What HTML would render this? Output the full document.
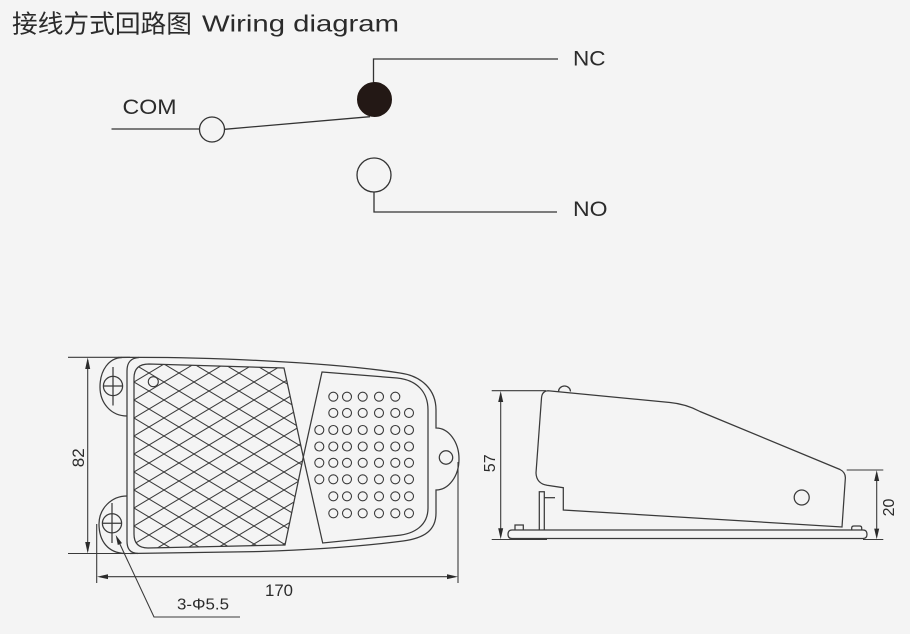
<!DOCTYPE html>
<html>
<head>
<meta charset="utf-8">
<style>
  html,body{margin:0;padding:0;background:#f4f4f4;}
  svg{display:block;}
  .t{font-family:"Liberation Sans","Noto Sans CJK SC",sans-serif;fill:#2b2b2b;}
</style>
</head>
<body>
<svg width="910" height="634" viewBox="0 0 910 634" xmlns="http://www.w3.org/2000/svg">
  <defs>
    <pattern id="hatch" patternUnits="userSpaceOnUse" x="134" y="364" width="30" height="18">
      <path d="M-5,-3 L35,21 M-5,21 L35,-3" stroke="#3a3a3a" stroke-width="1" fill="none"/>
    </pattern>
  </defs>
  <rect x="0" y="0" width="910" height="634" fill="#f4f4f4"/>

  <!-- Title -->
  <text class="t" x="12" y="32.5" font-size="25" textLength="180" lengthAdjust="spacingAndGlyphs" style="font-family:'Noto Sans CJK SC',sans-serif;">接线方式回路图</text>
  <text class="t" x="202" y="31.5" font-size="23" textLength="197" lengthAdjust="spacingAndGlyphs">Wiring diagram</text>

  <!-- Wiring diagram -->
  <g stroke="#333" stroke-width="1.3" fill="none">
    <line x1="111.5" y1="129" x2="199.5" y2="129"/>
    <line x1="224.5" y1="129.3" x2="370" y2="116.7"/>
    <polyline points="373.5,84 373.5,59 558,59"/>
    <polyline points="374,192 374,212 557,212"/>
  </g>
  <circle cx="212" cy="129.5" r="12.5" fill="#f4f4f4" stroke="#333" stroke-width="1.3"/>
  <circle cx="374.5" cy="99.5" r="17" fill="#231815" stroke="#231815" stroke-width="1"/>
  <circle cx="374" cy="175" r="17" fill="#f4f4f4" stroke="#333" stroke-width="1.3"/>
  <text class="t" x="122.5" y="114" font-size="21" textLength="54" lengthAdjust="spacingAndGlyphs">COM</text>
  <text class="t" x="573" y="65.7" font-size="21" textLength="32.5" lengthAdjust="spacingAndGlyphs">NC</text>
  <text class="t" x="573" y="216" font-size="21" textLength="34.5" lengthAdjust="spacingAndGlyphs">NO</text>

  <!-- Front view -->
  <g stroke="#3a3a3a" stroke-width="1.25" fill="none">
    <!-- outer outline -->
    <path d="M130,553.5 L260,551.5 C320,549.5 365,546 403,541 C425,538 436,530 436,513 L436,490 A23,31 0 0 0 436,428 L436,410 C436,390 422,376 400,373 C330,362 200,356.5 118,357.5"/>
    <!-- left body line -->
    <path d="M139,357.5 C131,358 127,362 127,371 L127,541 C127,549 130,553 138,553.5"/>
    <!-- ears -->
    <path d="M127,416 C111,416 100,403 100,387 C100,370 109,358 122,357.5"/>
    <path d="M127,496 C111,496 99,509 99,524 C99,541 108,553 125,553.5"/>
    <!-- crosshairs -->
    <circle cx="113" cy="386" r="9.6"/>
    <line x1="113" y1="367" x2="113" y2="405.5"/>
    <line x1="103.4" y1="386" x2="122.6" y2="386"/>
    <circle cx="112" cy="523.3" r="9.6"/>
    <line x1="112" y1="503" x2="112" y2="543"/>
    <line x1="102.4" y1="523.3" x2="121.6" y2="523.3"/>
    <!-- right ear hole -->
    <circle cx="446" cy="457.5" r="6.7"/>
  </g>

  <!-- Crosshatch panel -->
  <path d="M149,364 L284,368 L303.3,457 L285,545 L148,548 Q134,548 134,534 L134,378 Q134,364 149,364 Z" fill="url(#hatch)" stroke="#3a3a3a" stroke-width="1.25"/>
  <circle cx="153.3" cy="381.7" r="5" fill="#f4f4f4" stroke="#3a3a3a" stroke-width="1.1"/>

  <!-- Dot panel -->
  <path d="M322,372 L397,378 C417,380 428,392 428,410 L428,508 C428,525 415,534 397,535.5 L322.7,543 L303.3,457 Z" fill="none" stroke="#3a3a3a" stroke-width="1.25"/>
  <g fill="none" stroke="#3a3a3a" stroke-width="1.1">
    <!-- row 1 -->
    <circle cx="333.3" cy="396.7" r="4.5"/><circle cx="347" cy="396.7" r="4.5"/><circle cx="362.7" cy="396.7" r="4.5"/><circle cx="379" cy="396.7" r="4.5"/><circle cx="395.3" cy="396.7" r="4.5"/>
    <!-- row 2 -->
    <circle cx="333.3" cy="412.9" r="4.5"/><circle cx="347" cy="412.9" r="4.5"/><circle cx="362.7" cy="412.9" r="4.5"/><circle cx="379" cy="412.9" r="4.5"/><circle cx="395.3" cy="412.9" r="4.5"/><circle cx="409" cy="412.9" r="4.5"/>
    <!-- rows 3-6 -->
    <circle cx="319.3" cy="430" r="4.5"/><circle cx="333.3" cy="430" r="4.5"/><circle cx="347" cy="430" r="4.5"/><circle cx="362.7" cy="430" r="4.5"/><circle cx="379" cy="430" r="4.5"/><circle cx="395.3" cy="430" r="4.5"/><circle cx="409" cy="430" r="4.5"/>
    <circle cx="319.3" cy="446.5" r="4.5"/><circle cx="333.3" cy="446.5" r="4.5"/><circle cx="347" cy="446.5" r="4.5"/><circle cx="362.7" cy="446.5" r="4.5"/><circle cx="379" cy="446.5" r="4.5"/><circle cx="395.3" cy="446.5" r="4.5"/><circle cx="409" cy="446.5" r="4.5"/>
    <circle cx="319.3" cy="462.8" r="4.5"/><circle cx="333.3" cy="462.8" r="4.5"/><circle cx="347" cy="462.8" r="4.5"/><circle cx="362.7" cy="462.8" r="4.5"/><circle cx="379" cy="462.8" r="4.5"/><circle cx="395.3" cy="462.8" r="4.5"/><circle cx="409" cy="462.8" r="4.5"/>
    <circle cx="319.3" cy="479.3" r="4.5"/><circle cx="333.3" cy="479.3" r="4.5"/><circle cx="347" cy="479.3" r="4.5"/><circle cx="362.7" cy="479.3" r="4.5"/><circle cx="379" cy="479.3" r="4.5"/><circle cx="395.3" cy="479.3" r="4.5"/><circle cx="409" cy="479.3" r="4.5"/>
    <!-- rows 7-8 -->
    <circle cx="333.3" cy="496.3" r="4.5"/><circle cx="347" cy="496.3" r="4.5"/><circle cx="362.7" cy="496.3" r="4.5"/><circle cx="379" cy="496.3" r="4.5"/><circle cx="395.3" cy="496.3" r="4.5"/><circle cx="409" cy="496.3" r="4.5"/>
    <circle cx="333.3" cy="513.3" r="4.5"/><circle cx="347" cy="513.3" r="4.5"/><circle cx="362.7" cy="513.3" r="4.5"/><circle cx="379" cy="513.3" r="4.5"/><circle cx="395.3" cy="513.3" r="4.5"/><circle cx="409" cy="513.3" r="4.5"/>
  </g>

  <!-- Front view dimensions -->
  <g stroke="#3a3a3a" stroke-width="1.1" fill="none">
    <line x1="68" y1="357.3" x2="130" y2="357.3"/>
    <line x1="68" y1="553.5" x2="130" y2="553.5"/>
    <line x1="87.7" y1="360" x2="87.7" y2="551"/>
    <line x1="96.7" y1="524" x2="96.7" y2="583"/>
    <line x1="458" y1="462" x2="458" y2="583"/>
    <line x1="100" y1="576.7" x2="455" y2="576.7"/>
    <polyline points="118,540 154,617 240,617"/>
  </g>
  <g fill="#2b2b2b" stroke="none">
    <path d="M87.7,357.5 L85.2,369 L90.2,369 Z"/>
    <path d="M87.7,553.5 L85.2,542 L90.2,542 Z"/>
    <path d="M97,576.7 L108,574.3 L108,579.1 Z"/>
    <path d="M458,576.7 L447,574.3 L447,579.1 Z"/>
    <path d="M115.7,535 L122,543.1 L117.8,545 Z"/>
  </g>
  <text class="t" font-size="17" text-anchor="middle" transform="translate(84,457.8) rotate(-90)">82</text>
  <text class="t" x="265" y="596" font-size="17" textLength="28" lengthAdjust="spacingAndGlyphs">170</text>
  <text class="t" x="177" y="609.5" font-size="16" textLength="52" lengthAdjust="spacingAndGlyphs">3-Φ5.5</text>

  <!-- Side view -->
  <g stroke="#3a3a3a" stroke-width="1.25" fill="none">
    <!-- dome -->
    <path d="M558.5,391.5 A6,5.5 0 0 1 570.5,391.5"/>
    <!-- body -->
    <path d="M548,390.7 L670,402.5 Q686,404 700,411.5 L840,469.5 Q846,472.5 845.3,479 L842,527 L563.3,510 L563.3,487.7 L547,485.3 Q536.5,483.5 536,473 L541.5,398 Q542,391 548,390.7 Z"/>
    <!-- hinge post -->
    <polyline points="539.3,530 539.3,491.7 544.3,491.7 544.3,530"/>
    <line x1="544.3" y1="497.7" x2="555" y2="497.7"/>
    <!-- base plate -->
    <path d="M512,530 L863,530 Q867,530 867,534.3 Q867,538.5 863,538.5 L512,538.5 Q508,538.5 508,534.3 Q508,530 512,530 Z"/>
    <!-- bumps -->
    <polyline points="515,530 515,525 523.3,525 523.3,530"/>
    <path d="M851.7,530 L851.7,528 Q851.7,526 854,526 L859.5,526 Q861.7,526 861.7,528 L861.7,530"/>
    <!-- side hole -->
    <circle cx="801.7" cy="497.5" r="7.5"/>
  </g>
  <g stroke="#3a3a3a" stroke-width="1.1" fill="none">
    <line x1="491.7" y1="390.7" x2="546" y2="390.7"/>
    <line x1="491.7" y1="539.5" x2="547" y2="539.5"/>
    <line x1="500.7" y1="394" x2="500.7" y2="536"/>
    <line x1="846.7" y1="470" x2="883.3" y2="470"/>
    <line x1="863" y1="539.5" x2="883.3" y2="539.5"/>
    <line x1="876.7" y1="473" x2="876.7" y2="536"/>
  </g>
  <g fill="#2b2b2b" stroke="none">
    <path d="M500.7,391 L498.2,402 L503.2,402 Z"/>
    <path d="M500.7,539.3 L498.2,528.3 L503.2,528.3 Z"/>
    <path d="M876.7,470.3 L874.2,481 L879.2,481 Z"/>
    <path d="M876.7,539.3 L874.2,528.6 L879.2,528.6 Z"/>
  </g>
  <text class="t" font-size="16" text-anchor="middle" transform="translate(495,463.3) rotate(-90)">57</text>
  <text class="t" font-size="16" text-anchor="middle" transform="translate(894,507.5) rotate(-90)">20</text>
</svg>
</body>
</html>
